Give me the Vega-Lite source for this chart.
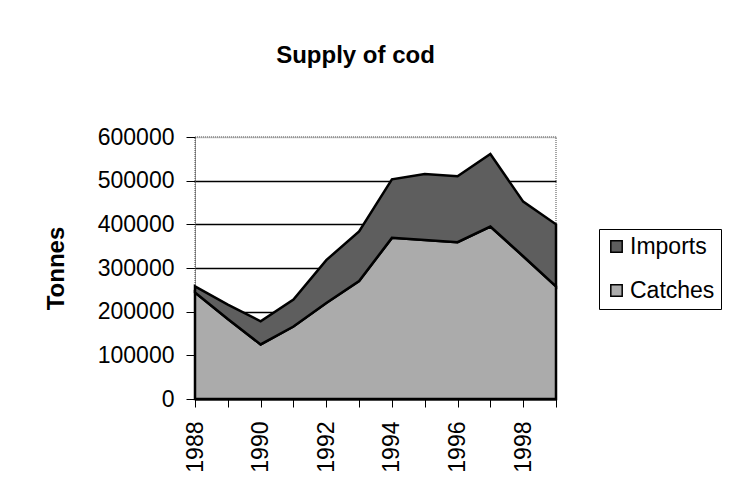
{
  "$schema": "https://vega.github.io/schema/vega-lite/v6.json",
  "width": 361,
  "height": 262,
  "autosize": {"type": "none"},
  "padding": {"left": 195, "top": 137, "right": 180, "bottom": 99},
  "background": "white",
  "title": {
    "text": "Supply of cod",
    "font": "Liberation Sans",
    "fontSize": 24,
    "fontWeight": "bold",
    "color": "black",
    "anchor": "middle",
    "frame": "group",
    "dx": -20,
    "offset": 58
  },
  "data": {
    "values": [
      {"year": 1988, "series": "Catches", "tonnes": 244000},
      {"year": 1989, "series": "Catches", "tonnes": 183000},
      {"year": 1990, "series": "Catches", "tonnes": 125000},
      {"year": 1991, "series": "Catches", "tonnes": 166000},
      {"year": 1992, "series": "Catches", "tonnes": 220000},
      {"year": 1993, "series": "Catches", "tonnes": 270000},
      {"year": 1994, "series": "Catches", "tonnes": 369000},
      {"year": 1995, "series": "Catches", "tonnes": 364000},
      {"year": 1996, "series": "Catches", "tonnes": 359000},
      {"year": 1997, "series": "Catches", "tonnes": 395000},
      {"year": 1998, "series": "Catches", "tonnes": 327000},
      {"year": 1999, "series": "Catches", "tonnes": 258000},
      {"year": 1988, "series": "Imports", "tonnes": 14000},
      {"year": 1989, "series": "Imports", "tonnes": 33000},
      {"year": 1990, "series": "Imports", "tonnes": 53000},
      {"year": 1991, "series": "Imports", "tonnes": 62000},
      {"year": 1992, "series": "Imports", "tonnes": 98000},
      {"year": 1993, "series": "Imports", "tonnes": 114000},
      {"year": 1994, "series": "Imports", "tonnes": 134000},
      {"year": 1995, "series": "Imports", "tonnes": 151000},
      {"year": 1996, "series": "Imports", "tonnes": 151000},
      {"year": 1997, "series": "Imports", "tonnes": 166000},
      {"year": 1998, "series": "Imports", "tonnes": 125000},
      {"year": 1999, "series": "Imports", "tonnes": 142000}
    ]
  },
  "mark": {"type": "area", "stroke": "black", "strokeWidth": 2.5, "strokeJoin": "miter", "opacity": 1},
  "encoding": {
    "x": {
      "field": "year",
      "type": "quantitative",
      "scale": {"domain": [1988, 1999], "nice": false, "zero": false},
      "axis": {
        "title": null,
        "values": [1988, 1989, 1990, 1991, 1992, 1993, 1994, 1995, 1996, 1997, 1998, 1999],
        "labelExpr": "datum.value % 2 == 0 ? format(datum.value, 'd') : ''",
        "labelAngle": -90,
        "labelFont": "Liberation Sans",
        "labelFontSize": 23,
        "labelColor": "black",
        "labelPadding": 14,
        "tickSize": 8,
        "tickColor": "black",
        "domainColor": "black",
        "domainWidth": 2,
        "grid": false,
        "labelOverlap": false
      }
    },
    "y": {
      "field": "tonnes",
      "type": "quantitative",
      "aggregate": "sum",
      "stack": "zero",
      "scale": {"domain": [0, 600000], "nice": false},
      "axis": {
        "title": "Tonnes",
        "titleFont": "Liberation Sans",
        "titleFontSize": 24,
        "titleFontWeight": "bold",
        "titleColor": "black",
        "titleX": -139,
        "titleY": 131,
        "titleBaseline": "middle",
        "titleAlign": "center",
        "values": [0, 100000, 200000, 300000, 400000, 500000, 600000],
        "format": "d",
        "labelFont": "Liberation Sans",
        "labelFontSize": 23,
        "labelColor": "black",
        "labelPadding": 12,
        "tickSize": 9,
        "tickColor": "black",
        "domainColor": "#333",
        "domainDash": [1, 1],
        "grid": true,
        "gridColor": {"condition": {"test": "datum.value == 600000", "value": "#888"}, "value": "black"},
        "gridDash": {"condition": {"test": "datum.value == 600000", "value": [1, 1]}, "value": []},
        "gridWidth": 1.5
      }
    },
    "color": {
      "field": "series",
      "type": "nominal",
      "scale": {"domain": ["Imports", "Catches"], "range": ["#5e5e5e", "#ababab"]},
      "legend": {
        "title": null,
        "orient": "none",
        "legendX": 404,
        "legendY": 92,
        "symbolType": "square",
        "symbolSize": 130,
        "symbolStrokeColor": "black",
        "symbolStrokeWidth": 1.5,
        "symbolOpacity": 1,
        "labelFont": "Liberation Sans",
        "labelFontSize": 23,
        "labelColor": "black",
        "labelOffset": 2,
        "rowPadding": 20,
        "padding": 6,
        "strokeColor": "black",
        "fillColor": "white"
      }
    },
    "order": {"field": "series", "sort": "ascending"}
  },
  "config": {
    "view": {"stroke": "#888", "strokeDash": [1, 1], "strokeWidth": 1.5},
    "axis": {"ticks": true}
  }
}
